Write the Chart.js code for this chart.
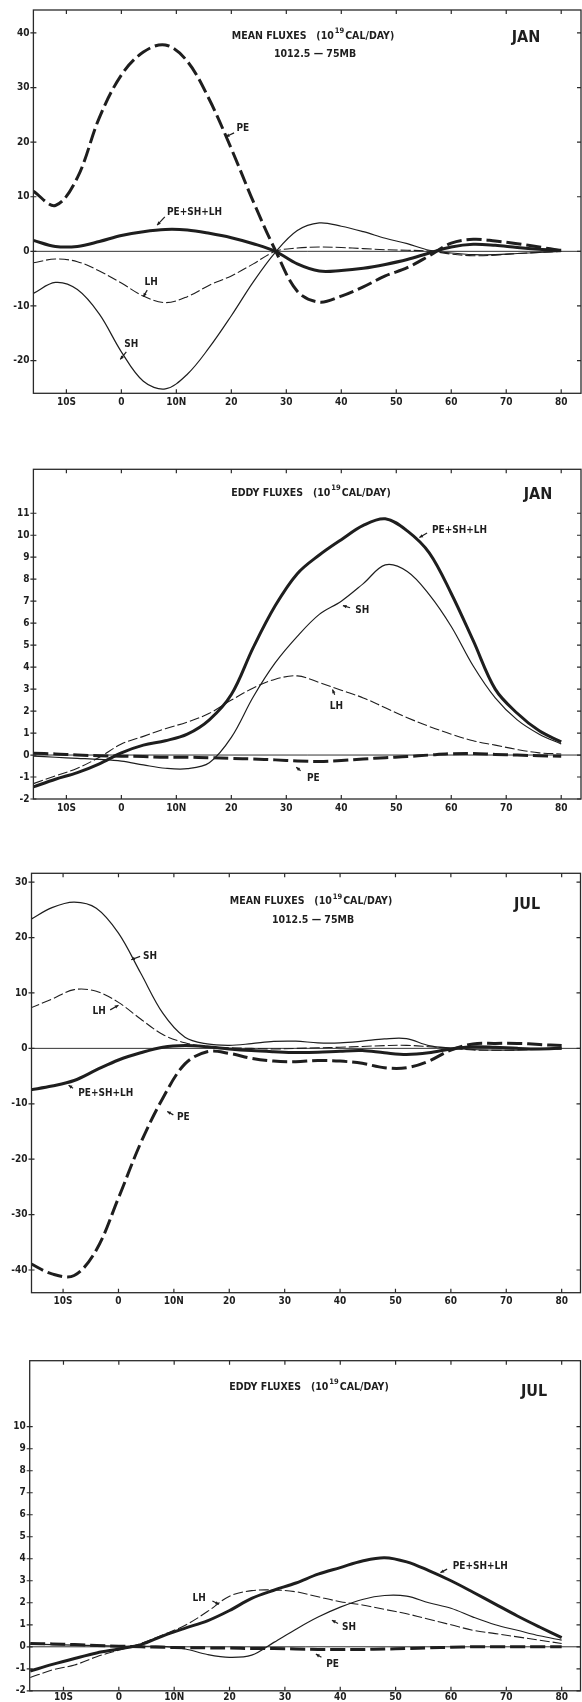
<!DOCTYPE html>
<html>
<head>
<meta charset="utf-8">
<script src="https://cdn.jsdelivr.net/npm/chart.js@4.4.1/dist/chart.umd.min.js"></script>
<style>
    body { margin: 0; background: #fff; width: 582px; height: 1702px; overflow: hidden; position: relative; }
    .painel { position: absolute; left: 0; width: 582px; }
</style>
</head>
<body>
<div class="painel" style="top:0;height:415px"><canvas id="janMedia"></canvas></div>
<div class="painel" style="top:430px;height:390px"><canvas id="janTurb"></canvas></div>
<div class="painel" style="top:830px;height:480px"><canvas id="julMedia"></canvas></div>
<div class="painel" style="top:1320px;height:382px"><canvas id="julTurb"></canvas></div>
<script>
// latitudes (graus, negativo = sul)
const latitudes = [-16, -12, -8, -4, 0, 4, 8, 12, 16, 20, 24, 28, 32, 36, 40, 44, 48, 52, 56, 60, 64, 68, 72, 76, 80];

const xTicks = [-10, 0, 10, 20, 30, 40, 50, 60, 70, 80];
const xTickLabels = ['10S', '0', '10N', '20', '30', '40', '50', '60', '70', '80'];

// JAN - fluxos médios
const janMediaPE = [11.0, 8.4, 13.5, 24.5, 32.3, 36.5, 37.8, 34.8, 27.8, 18.8, 9.1, 0.2, -7.3, -9.3, -8.2, -6.5, -4.5, -3.0, -0.8, 1.5, 2.2, 1.9, 1.4, 0.8, 0.1];
const janMediaTotal = [2.0, 0.9, 0.9, 1.8, 2.9, 3.6, 4.0, 3.9, 3.3, 2.5, 1.4, 0.0, -2.3, -3.6, -3.5, -3.1, -2.4, -1.5, -0.3, 0.8, 1.3, 1.1, 0.7, 0.4, 0.2];
const janMediaLH = [-2.1, -1.4, -1.9, -3.6, -5.8, -8.2, -9.4, -8.3, -6.2, -4.5, -2.3, 0.0, 0.6, 0.8, 0.7, 0.5, 0.3, 0.2, 0.05, -0.5, -0.8, -0.7, -0.4, -0.2, 0.0];
const janMediaSH = [-7.7, -5.7, -7.0, -11.5, -18.4, -23.8, -25.2, -22.5, -17.6, -11.8, -5.6, -0.2, 3.8, 5.2, 4.6, 3.6, 2.4, 1.4, 0.2, -0.3, -0.6, -0.6, -0.4, -0.2, 0.0];
const janMediaYTicks = [-20, -10, 0, 10, 20, 30, 40];

// JAN - fluxos turbulentos
const janTurbTotal = [-1.45, -1.1, -0.8, -0.4, 0.1, 0.45, 0.65, 0.95, 1.6, 2.75, 4.9, 6.8, 8.25, 9.1, 9.8, 10.45, 10.75, 10.2, 9.2, 7.35, 5.2, 3.0, 1.9, 1.1, 0.6];
const janTurbSH = [-0.05, -0.1, -0.15, -0.2, -0.28, -0.45, -0.6, -0.62, -0.35, 0.8, 2.65, 4.2, 5.4, 6.4, 7.0, 7.8, 8.65, 8.35, 7.3, 5.85, 4.05, 2.6, 1.6, 0.95, 0.5];
const janTurbLH = [-1.3, -0.95, -0.6, -0.1, 0.5, 0.85, 1.2, 1.5, 1.9, 2.5, 3.05, 3.45, 3.6, 3.3, 2.95, 2.6, 2.15, 1.7, 1.3, 0.95, 0.65, 0.45, 0.25, 0.1, 0.05];
const janTurbPE = [0.08, 0.05, 0.0, -0.03, -0.05, -0.07, -0.1, -0.1, -0.12, -0.15, -0.18, -0.22, -0.27, -0.29, -0.25, -0.18, -0.12, -0.07, 0.0, 0.06, 0.07, 0.03, 0.0, -0.03, -0.05];
const janTurbYTicks = [-2, -1, 0, 1, 2, 3, 4, 5, 6, 7, 8, 9, 10, 11];

// JUL - fluxos médios
const julMediaSH = [23.2, 25.4, 26.4, 25.3, 20.8, 13.6, 6.35, 2.0, 0.8, 0.55, 0.85, 1.25, 1.3, 1.0, 1.0, 1.3, 1.7, 1.75, 0.5, 0.05, -0.2, -0.3, -0.3, -0.1, 0.1];
const julMediaLH = [7.25, 8.9, 10.6, 10.3, 8.3, 5.3, 2.5, 1.0, 0.3, 0.1, 0.0, -0.1, 0.0, 0.1, 0.2, 0.35, 0.5, 0.55, 0.3, 0.0, -0.3, -0.35, -0.3, -0.2, -0.1];
const julMediaTotal = [-7.5, -6.8, -5.8, -3.9, -2.1, -0.8, 0.2, 0.5, 0.3, -0.1, -0.4, -0.6, -0.75, -0.7, -0.5, -0.4, -0.8, -1.1, -0.8, -0.1, 0.3, 0.2, 0.0, -0.1, 0.0];
const julMediaPE = [-38.8, -40.7, -41.0, -36.4, -27.0, -17.1, -9.0, -2.8, -0.6, -0.9, -1.8, -2.3, -2.4, -2.2, -2.3, -2.7, -3.5, -3.5, -2.3, -0.3, 0.8, 0.9, 0.9, 0.7, 0.5];
const julMediaYTicks = [-40, -30, -20, -10, 0, 10, 20, 30];

// JUL - fluxos turbulentos
const julTurbTotal = [-1.1, -0.8, -0.53, -0.28, -0.1, 0.1, 0.5, 0.85, 1.18, 1.65, 2.2, 2.57, 2.9, 3.3, 3.6, 3.9, 4.05, 3.86, 3.46, 3.0, 2.48, 1.94, 1.4, 0.9, 0.42];
const julTurbLH = [-1.4, -1.05, -0.83, -0.45, -0.15, 0.15, 0.55, 0.98, 1.6, 2.3, 2.55, 2.58, 2.5, 2.27, 2.05, 1.9, 1.7, 1.5, 1.25, 1.0, 0.75, 0.6, 0.45, 0.3, 0.15];
const julTurbSH = [0.12, 0.1, 0.08, 0.05, 0.03, 0.02, 0.02, -0.1, -0.35, -0.48, -0.38, 0.2, 0.8, 1.35, 1.8, 2.15, 2.33, 2.3, 2.0, 1.75, 1.35, 1.0, 0.75, 0.5, 0.3];
const julTurbPE = [0.15, 0.13, 0.1, 0.06, 0.03, 0.0, -0.02, -0.04, -0.05, -0.06, -0.08, -0.08, -0.1, -0.12, -0.12, -0.12, -0.1, -0.08, -0.05, -0.02, 0.0, 0.0, 0.0, 0.0, 0.0];
const julTurbYTicks = [-2, -1, 0, 1, 2, 3, 4, 5, 6, 7, 8, 9, 10];

// rótulos das curvas: [texto, lat, valor, setaDeLat, setaDeVal, setaAteLat, setaAteVal]
const janMediaRotulos = [
    ['PE', 22.1, 22.5, 20.5, 21.7, 19.0, 21.0],
    ['PE+SH+LH', 13.3, 7.2, 7.9, 6.3, 6.5, 4.8],
    ['LH', 5.4, -5.6, 4.7, -7.1, 4.0, -8.3],
    ['SH', 1.8, -17.1, 0.9, -18.4, -0.2, -19.8]
];
const janTurbRotulos = [
    ['PE+SH+LH', 61.5, 10.2, 55.6, 10.1, 54.2, 9.9],
    ['SH', 43.8, 6.6, 41.6, 6.7, 40.3, 6.8],
    ['LH', 39.1, 2.2, 38.8, 2.74, 38.4, 2.98],
    ['PE', 34.9, -1.06, 32.6, -0.71, 31.8, -0.56]
];
const julMediaRotulos = [
    ['SH', 5.7, 16.6, 3.9, 16.6, 2.3, 16.0],
    ['LH', -3.5, 6.6, -1.5, 6.95, 0.0, 7.8],
    ['PE+SH+LH', -2.3, -8.1, -8.2, -7.2, -9.0, -6.65],
    ['PE', 11.7, -12.4, 9.9, -12.0, 8.8, -11.4]
];
const julTurbRotulos = [
    ['PE+SH+LH', 65.3, 3.65, 59.3, 3.53, 58.1, 3.37],
    ['LH', 14.5, 2.2, 16.9, 2.08, 18.1, 1.93],
    ['SH', 41.6, 0.88, 39.6, 1.06, 38.5, 1.21],
    ['PE', 38.6, -0.78, 36.6, -0.48, 35.6, -0.33]
];

const fonteTexto = '"DejaVu Sans Condensed", "Liberation Sans Narrow", "Liberation Sans", sans-serif';
const tinta = '#1e1e1e';

Chart.defaults.font.family = fonteTexto;
Chart.defaults.color = tinta;

function pontos(vals) {
    return latitudes.map((lat, i) => ({ x: lat, y: vals[i] }));
}

// estilos das 4 curvas
function serie(nome, vals, tipo) {
    const estilos = {
        total: { borderWidth: 3, borderDash: [] },
        pe: { borderWidth: 3, borderDash: [15, 5] },
        sh: { borderWidth: 1.2, borderDash: [] },
        lh: { borderWidth: 1.1, borderDash: [10, 3] }
    };
    return Object.assign({
        label: nome,
        data: pontos(vals),
        borderColor: tinta,
        pointRadius: 0,
        fill: false,
        tension: 0.35
    }, estilos[tipo]);
}

// moldura, marcas internas e linha do zero
const moldura = {
    id: 'moldura',
    beforeDatasetsDraw(chart) {
        const { ctx, chartArea: a, scales: { y } } = chart;
        const y0 = y.getPixelForValue(0);
        ctx.save();
        ctx.strokeStyle = '#333';
        ctx.lineWidth = 1;
        ctx.beginPath();
        ctx.moveTo(a.left, y0);
        ctx.lineTo(a.right, y0);
        ctx.stroke();
        ctx.restore();
    },
    afterDatasetsDraw(chart) {
        const { ctx, chartArea: a, scales: { x, y } } = chart;
        ctx.save();
        ctx.strokeStyle = '#2a2a2a';
        ctx.lineWidth = 1.3;
        ctx.strokeRect(a.left, a.top, a.right - a.left, a.bottom - a.top);
        ctx.lineWidth = 1.2;
        ctx.beginPath();
        x.ticks.forEach(t => {
            const px = x.getPixelForValue(t.value);
            ctx.moveTo(px, a.top); ctx.lineTo(px, a.top + 4);
            ctx.moveTo(px, a.bottom); ctx.lineTo(px, a.bottom - 4);
        });
        y.ticks.forEach(t => {
            const py = y.getPixelForValue(t.value);
            ctx.moveTo(a.left - 3, py); ctx.lineTo(a.left + 3, py);
            ctx.moveTo(a.right, py); ctx.lineTo(a.right - 4, py);
        });
        ctx.stroke();
        ctx.restore();
    }
};

// títulos e rótulos das curvas
const textos = {
    id: 'textos',
    afterDraw(chart, args, opts) {
        const { ctx, scales: { x, y } } = chart;
        ctx.save();
        ctx.fillStyle = tinta;
        ctx.textBaseline = 'middle';

        // título com expoente
        const t = opts.titulo;
        const parte1 = t.nome + '   (10';
        const parte2 = 'CAL/DAY)';
        ctx.font = 'bold 10.5px ' + fonteTexto;
        const w1 = ctx.measureText(parte1).width;
        const w3 = ctx.measureText(parte2).width;
        ctx.font = 'bold 7.5px ' + fonteTexto;
        const w2 = ctx.measureText('19').width + 2;
        let x0 = t.cx - (w1 + w2 + w3) / 2;
        ctx.font = 'bold 10.5px ' + fonteTexto;
        ctx.textAlign = 'left';
        ctx.fillText(parte1, x0, t.y);
        ctx.font = 'bold 7.5px ' + fonteTexto;
        ctx.fillText('19', x0 + w1 + 1, t.y - 5);
        ctx.font = 'bold 10.5px ' + fonteTexto;
        ctx.fillText(parte2, x0 + w1 + w2, t.y);
        if (t.linha2) {
            ctx.textAlign = 'center';
            ctx.fillText(t.linha2, t.cx + 2, t.y2);
        }
        ctx.font = 'bold 16px ' + fonteTexto;
        ctx.textAlign = 'center';
        ctx.fillText(t.mes, t.mx, t.my);

        // rótulos
        ctx.font = 'bold 10px ' + fonteTexto;
        opts.rotulos.forEach(([txt, lx, ly, ax, ay, bx, by]) => {
            ctx.fillText(txt, x.getPixelForValue(lx), y.getPixelForValue(ly));
            const x1 = x.getPixelForValue(ax), y1 = y.getPixelForValue(ay);
            const x2 = x.getPixelForValue(bx), y2 = y.getPixelForValue(by);
            ctx.strokeStyle = tinta;
            ctx.lineWidth = 1.2;
            ctx.beginPath(); ctx.moveTo(x1, y1); ctx.lineTo(x2, y2); ctx.stroke();
            const ang = Math.atan2(y2 - y1, x2 - x1);
            ctx.beginPath();
            ctx.moveTo(x2, y2);
            ctx.lineTo(x2 - 4 * Math.cos(ang - 0.45), y2 - 4 * Math.sin(ang - 0.45));
            ctx.lineTo(x2 - 4 * Math.cos(ang + 0.45), y2 - 4 * Math.sin(ang + 0.45));
            ctx.closePath();
            ctx.fill();
        });
        ctx.restore();
    }
};

function criarPainel(id, cfg) {
    const el = document.getElementById(id);
    return new Chart(el, {
        type: 'line',
        data: { datasets: cfg.series },
        options: {
            responsive: true,
            maintainAspectRatio: false,
            animation: false,
            layout: { padding: { top: cfg.topo, right: cfg.direita, left: 0, bottom: 0 } },
            plugins: {
                legend: { display: false },
                tooltip: { enabled: false },
                textos: { titulo: cfg.titulo, rotulos: cfg.rotulos }
            },
            scales: {
                x: {
                    type: 'linear',
                    min: cfg.xMin,
                    max: cfg.xMax,
                    grid: { display: false, drawTicks: false },
                    border: { display: false },
                    afterBuildTicks: s => { s.ticks = xTicks.map(v => ({ value: v })); },
                    afterFit: s => { s.height = cfg.alturaX; },
                    ticks: {
                        padding: cfg.padX,
                        autoSkip: false,
                        maxRotation: 0,
                        font: { size: 10, weight: 'bold' },
                        callback: v => xTickLabels[xTicks.indexOf(v)]
                    }
                },
                y: {
                    min: cfg.yMin,
                    max: cfg.yMax,
                    grid: { display: false, drawTicks: false },
                    border: { display: false },
                    afterBuildTicks: s => { s.ticks = cfg.yTicks.map(v => ({ value: v })); },
                    afterFit: s => { s.width = cfg.larguraY; },
                    ticks: {
                        padding: 4,
                        autoSkip: false,
                        font: { size: 10, weight: 'bold' },
                        callback: v => String(v)
                    }
                }
            }
        },
        plugins: [moldura, textos]
    });
}

criarPainel('janMedia', {
    series: [
        serie('PE', janMediaPE, 'pe'),
        serie('PE+SH+LH', janMediaTotal, 'total'),
        serie('LH', janMediaLH, 'lh'),
        serie('SH', janMediaSH, 'sh')
    ],
    yTicks: janMediaYTicks, yMin: -26, yMax: 44.2,
    xMin: -16, xMax: 83.6,
    topo: 7.3, direita: 1, larguraY: 33.4, alturaX: 21.7, padX: 3,
    titulo: { nome: 'MEAN FLUXES', linha2: '1012.5 \u2014 75MB', cx: 313, y: 36, y2: 54.3, mes: 'JAN', mx: 526, my: 38 },
    rotulos: janMediaRotulos
});

criarPainel('janTurb', {
    series: [
        serie('PE', janTurbPE, 'pe'),
        serie('PE+SH+LH', janTurbTotal, 'total'),
        serie('LH', janTurbLH, 'lh'),
        serie('SH', janTurbSH, 'sh')
    ],
    yTicks: janTurbYTicks, yMin: -2, yMax: 13,
    xMin: -16, xMax: 83.6,
    topo: 39.3, direita: 1, larguraY: 33.4, alturaX: 21, padX: 3,
    titulo: { nome: 'EDDY FLUXES', cx: 311, y: 63.3, mes: 'JAN', mx: 538, my: 65 },
    rotulos: janTurbRotulos
});

criarPainel('julMedia', {
    series: [
        serie('PE', julMediaPE, 'pe'),
        serie('PE+SH+LH', julMediaTotal, 'total'),
        serie('LH', julMediaLH, 'lh'),
        serie('SH', julMediaSH, 'sh')
    ],
    yTicks: julMediaYTicks, yMin: -44.1, yMax: 31.6,
    xMin: -15.7, xMax: 83.4,
    topo: 43.3, direita: 1.5, larguraY: 31.5, alturaX: 17.3, padX: 3,
    titulo: { nome: 'MEAN FLUXES', linha2: '1012.5 \u2014 75MB', cx: 311, y: 71.7, y2: 90.7, mes: 'JUL', mx: 527, my: 75 },
    rotulos: julMediaRotulos
});

criarPainel('julTurb', {
    series: [
        serie('PE', julTurbPE, 'pe'),
        serie('PE+SH+LH', julTurbTotal, 'total'),
        serie('LH', julTurbLH, 'lh'),
        serie('SH', julTurbSH, 'sh')
    ],
    yTicks: julTurbYTicks, yMin: -2, yMax: 13,
    xMin: -16.1, xMax: 83.4,
    topo: 40.7, direita: 1.5, larguraY: 29.7, alturaX: 11.2, padX: 1,
    titulo: { nome: 'EDDY FLUXES', cx: 309, y: 67.3, mes: 'JUL', mx: 534, my: 71.7 },
    rotulos: julTurbRotulos
});
</script>
</body>
</html>
